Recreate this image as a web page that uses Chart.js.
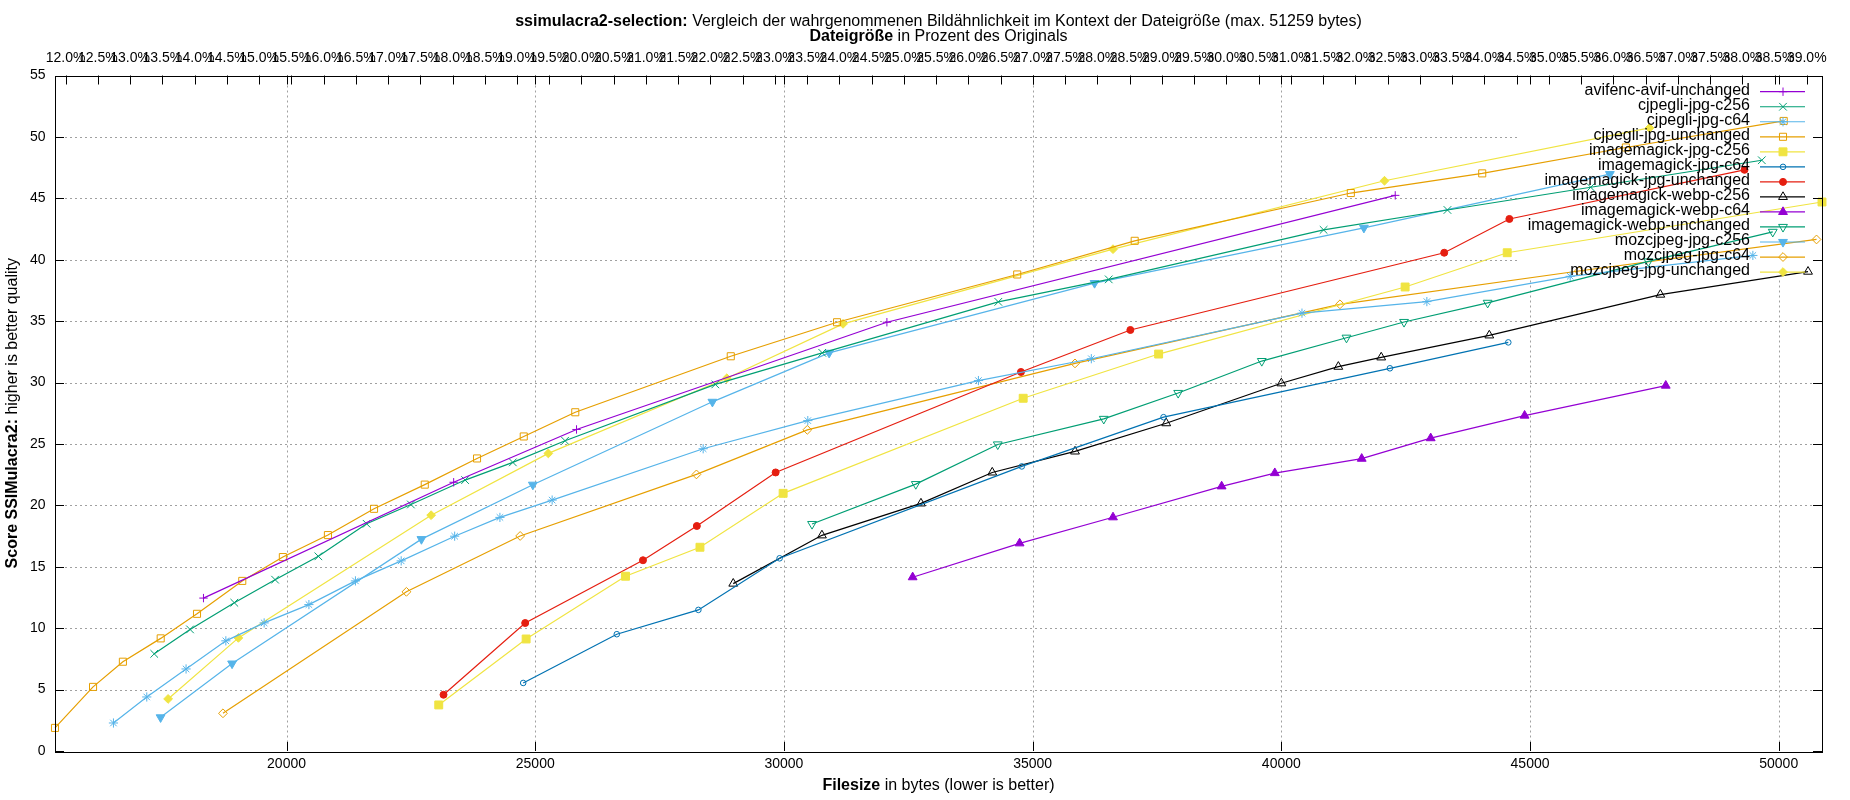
<!DOCTYPE html>
<html lang="de">
<head>
<meta charset="UTF-8">
<title>ssimulacra2-selection</title>
<script src="https://cdn.jsdelivr.net/npm/chart.js"></script>
<style>
  html, body { margin: 0; padding: 0; background: #fff; }
  #wrap { width: 1850px; height: 800px; }
</style>
</head>
<body>
<div id="wrap"><canvas id="ssimChart"></canvas></div>
<script>
// filesize in bytes, SSIMulacra2 score
const avifencAvifUnchanged = [[18330,12.45],[23360,21.88],[25830,26.18],[32070,34.91],[42290,45.24]];
const cjpegliJpgC256 = [[17340,7.91],[18060,9.9],[18950,12.07],[19770,13.95],[20640,15.85],[21610,18.5],[22500,20.07],[23590,22.06],[24550,23.5],[25600,25.26],[28620,29.85],[30770,32.42],[34310,36.57],[36530,38.4],[40850,42.43],[43340,44.05],[46220,45.9],[49660,48.1]];
const cjpegliJpgC64 = [[16520,2.28],[17190,4.4],[17980,6.68],[18780,8.97],[19550,10.43],[20450,11.92],[21385,13.85],[22305,15.48],[23380,17.49],[24290,19.02],[25340,20.43],[28376,24.61],[30480,26.9],[33910,30.16],[36180,31.94],[40415,35.65],[42926,36.59],[45808,38.65],[49480,40.35]];
const cjpegliJpgUnchanged = [[15345,1.88],[16110,5.22],[16710,7.27],[17470,9.17],[18200,11.17],[19110,13.85],[19926,15.79],[20832,17.58],[21759,19.72],[22779,21.69],[23830,23.82],[24769,25.61],[25805,27.58],[28931,32.14],[31068,34.91],[34690,38.8],[37052,41.54],[41397,45.43],[44039,47.03],[46927,49.14],[50100,51.3]];
const imagemagickJpgC256 = [[23060,3.75],[24817,9.12],[26815,14.23],[28312,16.59],[29984,20.98],[34810,28.72],[37533,32.32],[42489,37.78],[44541,40.57],[50870,44.7]];
const imagemagickJpgC64 = [[24758,5.54],[26640,9.51],[28280,11.49],[29913,15.69],[34782,23.17],[37632,27.18],[42183,31.16],[44563,33.27]];
const imagemagickJpgUnchanged = [[23156,4.58],[24798,10.42],[27166,15.53],[28249,18.32],[29833,22.68],[34765,30.86],[36965,34.28],[43275,40.57],[44585,43.32],[49312,47.32]];
const imagemagickWebpC256 = [[28981,13.63],[30764,17.56],[32755,20.16],[34188,22.68],[35852,24.39],[37686,26.69],[40000,29.94],[41146,31.29],[42008,32.05],[44181,33.84],[47620,37.16],[50589,39.03]];
const imagemagickWebpC64 = [[32588,14.15],[34738,16.91],[36616,19.03],[38800,21.55],[39869,22.63],[41616,23.8],[43003,25.47],[44891,27.31],[47729,29.75]];
const imagemagickWebpUnchanged = [[30565,18.48],[32651,21.73],[34299,24.96],[36430,27.04],[37926,29.15],[39607,31.75],[41310,33.65],[42467,34.93],[44148,36.49],[47380,39.86],[49880,42.27]];
const mozcjpegJpgC256 = [[17468,2.74],[18905,7.12],[22712,17.25],[24952,21.68],[28562,28.43],[30909,32.42],[36245,38.1],[41660,42.6],[46605,46.97]];
const mozcjpegJpgC64 = [[18722,3.07],[22410,12.96],[24697,17.51],[28241,22.52],[30470,26.15],[35852,31.56],[41179,36.37],[45982,39.08],[50760,41.65]];
const mozcjpegJpgUnchanged = [[17619,4.24],[19032,9.21],[22907,19.2],[25263,24.23],[28852,30.35],[31188,34.78],[36616,40.86],[42074,46.43],[47402,50.73]];

const seriesNames = ['avifenc-avif-unchanged','cjpegli-jpg-c256','cjpegli-jpg-c64','cjpegli-jpg-unchanged',
  'imagemagick-jpg-c256','imagemagick-jpg-c64','imagemagick-jpg-unchanged','imagemagick-webp-c256',
  'imagemagick-webp-c64','imagemagick-webp-unchanged','mozcjpeg-jpg-c256','mozcjpeg-jpg-c64','mozcjpeg-jpg-unchanged'];
const seriesData = [avifencAvifUnchanged, cjpegliJpgC256, cjpegliJpgC64, cjpegliJpgUnchanged,
  imagemagickJpgC256, imagemagickJpgC64, imagemagickJpgUnchanged, imagemagickWebpC256,
  imagemagickWebpC64, imagemagickWebpUnchanged, mozcjpegJpgC256, mozcjpegJpgC64, mozcjpegJpgUnchanged];

// gnuplot default line types 1..8, then repeating
const seriesColors = ['#9400d3','#009e73','#56b4e9','#e69f00','#f0e442','#0072b2','#e51e10','#000000',
  '#9400d3','#009e73','#56b4e9','#e69f00','#f0e442'];
const markerStyle  = ['cross','crossRot','star','rect','rect','circle','circle','triangle','triangle','triangle','triangle','rectRot','rectRot'];
const markerFilled = [false,false,false,false,true,false,true,false,true,false,true,false,true];
const markerRot    = [0,0,0,0,0,0,0,0,0,180,180,0,0];
const markerSize   = [4.2,5.4,4.6,5,5.6,2.8,3.5,5.1,5.1,5.1,5.1,4.4,4.4];

const xMin = 15345, xMax = 50870;
const originalBytes = 129650;          // top axis: size in percent of the original
const xTicks = [20000, 25000, 30000, 35000, 40000, 45000, 50000];
const x2Ticks = [];
for (let p = 12.0; p <= 39.0001; p += 0.5) x2Ticks.push(Math.round(p * 10) / 10);

const fam = '"Liberation Sans", Arial, sans-serif';
const keyBox = { left: 1517, bottom: 279 };

Chart.defaults.font.family = fam;
Chart.defaults.color = '#000';

const datasets = seriesData.map((d, i) => ({
  label: seriesNames[i],
  data: d,
  borderColor: seriesColors[i],
  backgroundColor: seriesColors[i],
  borderWidth: 1.2,
  pointStyle: markerStyle[i],
  pointRadius: markerSize[i],
  pointHoverRadius: markerSize[i],
  pointRotation: markerRot[i],
  pointBorderColor: seriesColors[i],
  pointBackgroundColor: markerFilled[i] ? seriesColors[i] : 'rgba(0,0,0,0)',
  pointBorderWidth: 1,
  tension: 0,
  clip: false
}));

function drawRich(ctx, parts, cx, cy, size) {
  let total = 0;
  parts.forEach(p => { ctx.font = p[1] + ' ' + size + 'px ' + fam; total += ctx.measureText(p[0]).width; });
  let x = cx - total / 2;
  parts.forEach(p => {
    ctx.font = p[1] + ' ' + size + 'px ' + fam;
    ctx.fillText(p[0], x, cy);
    x += ctx.measureText(p[0]).width;
  });
}

const gnuplotLook = {
  id: 'gnuplotLook',
  beforeDatasetsDraw(chart) {
    const { ctx, chartArea: a, scales } = chart;
    ctx.save();
    ctx.beginPath();
    ctx.rect(a.left, a.top, a.right - a.left, a.bottom - a.top);
    ctx.rect(keyBox.left, a.top, a.right - keyBox.left, keyBox.bottom - a.top);
    ctx.clip('evenodd');
    ctx.strokeStyle = '#a0a0a0';
    ctx.lineWidth = 1;
    ctx.setLineDash([2, 3]);
    ctx.beginPath();
    scales.x.ticks.forEach(t => {
      const px = Math.round(scales.x.getPixelForValue(t.value)) + 0.5;
      ctx.moveTo(px, a.top); ctx.lineTo(px, a.bottom);
    });
    scales.y.ticks.forEach(t => {
      if (t.value <= 0 || t.value >= 55) return;
      const py = Math.round(scales.y.getPixelForValue(t.value)) + 0.5;
      ctx.moveTo(a.left, py); ctx.lineTo(a.right, py);
    });
    ctx.stroke();
    ctx.restore();
  },
  afterDatasetsDraw(chart) {
    const { ctx, chartArea: a, scales } = chart;
    const tl = 9;
    ctx.save();
    ctx.strokeStyle = '#000';
    ctx.lineWidth = 1;
    ctx.beginPath();
    scales.x.ticks.forEach(t => {
      const px = Math.round(scales.x.getPixelForValue(t.value)) + 0.5;
      ctx.moveTo(px, a.bottom); ctx.lineTo(px, a.bottom - tl);
      ctx.moveTo(px, a.top); ctx.lineTo(px, a.top + tl);
    });
    scales.x2.ticks.forEach(t => {
      const px = Math.round(scales.x2.getPixelForValue(t.value)) + 0.5;
      ctx.moveTo(px, a.top); ctx.lineTo(px, a.top + tl);
    });
    scales.y.ticks.forEach(t => {
      const py = Math.round(scales.y.getPixelForValue(t.value)) + 0.5;
      ctx.moveTo(a.left, py); ctx.lineTo(a.left + tl, py);
      ctx.moveTo(a.right, py); ctx.lineTo(a.right - tl, py);
    });
    ctx.stroke();
    ctx.strokeRect(Math.round(a.left) + 0.5, Math.round(a.top) + 0.5,
      Math.round(a.right - a.left), Math.round(a.bottom - a.top));

    // key, gnuplot style: text right aligned, sample to the right
    const drawPoint = Chart.helpers && Chart.helpers.drawPoint;
    ctx.font = '16px ' + fam;
    ctx.textAlign = 'right';
    ctx.textBaseline = 'middle';
    chart.data.datasets.forEach((ds, i) => {
      const y = 91.7 + i * 15.03;
      ctx.fillStyle = '#000';
      ctx.fillText(ds.label, 1750, y - 1);
      ctx.strokeStyle = ds.borderColor;
      ctx.lineWidth = 1.2;
      ctx.beginPath(); ctx.moveTo(1760, y); ctx.lineTo(1805, y); ctx.stroke();
      if (drawPoint) {
        ctx.lineWidth = 1;
        ctx.fillStyle = ds.pointBackgroundColor;
        drawPoint(ctx, { pointStyle: ds.pointStyle, rotation: ds.pointRotation,
          radius: ds.pointRadius, borderWidth: 1 }, 1783, y);
      }
    });
    ctx.restore();
  },
  afterDraw(chart) {
    const { ctx, chartArea: a } = chart;
    const cx = (a.left + a.right) / 2;
    ctx.save();
    ctx.fillStyle = '#000';
    ctx.textAlign = 'left';
    ctx.textBaseline = 'middle';
    drawRich(ctx, [['ssimulacra2-selection:', 'bold'],
      [' Vergleich der wahrgenommenen Bildähnlichkeit im Kontext der Dateigröße (max. 51259 bytes)', 'normal']], cx, 21.5, 16);
    drawRich(ctx, [['Dateigröße', 'bold'], [' in Prozent des Originals', 'normal']], cx, 37, 16);
    drawRich(ctx, [['Filesize', 'bold'], [' in bytes (lower is better)', 'normal']], cx, 786, 16);
    ctx.translate(12.5, (a.top + a.bottom) / 2);
    ctx.rotate(-Math.PI / 2);
    drawRich(ctx, [['Score SSIMulacra2:', 'bold'], [' higher is better quality', 'normal']], 0, 0, 16);
    ctx.restore();
  }
};

const noPad = s => { s.paddingLeft = 0; s.paddingRight = 0; s.paddingTop = 0; s.paddingBottom = 0; };

new Chart(document.getElementById('ssimChart'), {
  type: 'line',
  data: { datasets: datasets },
  options: {
    responsive: true,
    maintainAspectRatio: false,
    animation: false,
    devicePixelRatio: 1,
    layout: { padding: { left: 0, right: 28, top: 0, bottom: 0 } },
    plugins: { legend: { display: false }, title: { display: false }, tooltip: { enabled: false } },
    scales: {
      x: {
        type: 'linear', position: 'bottom', min: xMin, max: xMax,
        grid: { display: false, drawTicks: false }, border: { display: false },
        afterBuildTicks: s => { s.ticks = xTicks.map(v => ({ value: v })); },
        ticks: { font: { size: 14 }, color: '#000', padding: 5, autoSkip: false, maxRotation: 0,
          callback: v => String(v) },
        afterFit: s => { s.height = 49; noPad(s); }
      },
      x2: {
        type: 'linear', position: 'top', axis: 'x',
        min: xMin * 100 / originalBytes, max: xMax * 100 / originalBytes,
        grid: { display: false, drawTicks: false }, border: { display: false },
        afterBuildTicks: s => { s.ticks = x2Ticks.map(v => ({ value: v })); },
        ticks: { font: { size: 14 }, color: '#000', padding: 9, autoSkip: false, maxRotation: 0, minRotation: 0,
          callback: v => Number(v).toFixed(1) + '%' },
        afterFit: s => { s.height = 75.5; noPad(s); }
      },
      y: {
        type: 'linear', position: 'left', min: 0, max: 55,
        grid: { display: false, drawTicks: false }, border: { display: false },
        ticks: { stepSize: 5, font: { size: 14 }, color: '#000', padding: 9.5, includeBounds: false },
        afterFit: s => { s.width = 55; noPad(s); }
      }
    }
  },
  plugins: [gnuplotLook]
});
</script>
</body>
</html>
